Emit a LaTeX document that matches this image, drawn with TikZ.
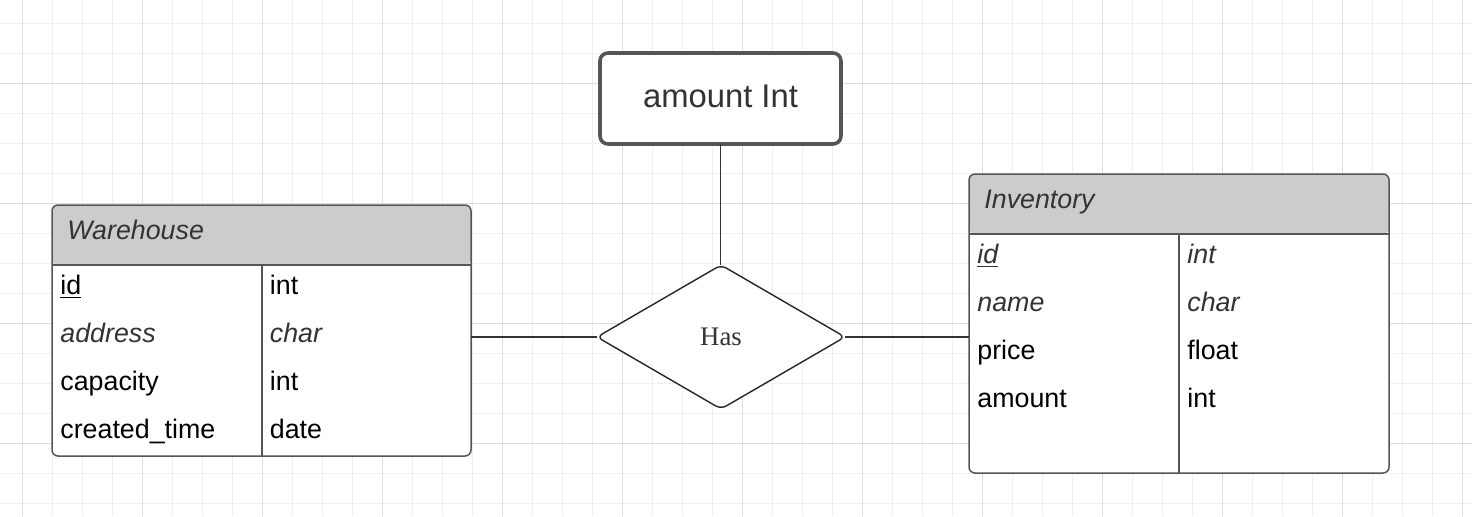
\documentclass[tikz,border=0pt]{standalone}
\usepackage{fontspec}
\setmainfont{Liberation Sans}
\newfontfamily\relfont{Liberation Serif}
\usetikzlibrary{positioning, shapes.geometric, calc}
\definecolor{GridMinor}{HTML}{EFEFEF}
\definecolor{GridMajor}{HTML}{DDDDDD}
\definecolor{HeaderGray}{HTML}{CCCCCC}
\definecolor{EdgeGray}{HTML}{555555}
\definecolor{TextDark}{HTML}{333333}

\begin{document}
\begin{tikzpicture}[
    x=0.5pt, y=-0.5pt,
    gridminor/.style={draw=GridMinor, line width=0.5pt},
    gridmajor/.style={draw=GridMajor, line width=0.5pt},
    entity/.style={
      draw=EdgeGray, fill=white, rounded corners=3pt,
      line width=0.75pt, inner sep=0pt, outer sep=0pt,
      path picture={\fill[HeaderGray] (path picture bounding box.north west)
        rectangle ($(path picture bounding box.north east)+(0,60)$);}
    },
    rule/.style={draw=EdgeGray, line width=0.75pt},
    attr/.style={anchor=base west, inner sep=0pt, font=\fontsize{13.4}{16}\selectfont},
    title/.style={attr, text=TextDark, font=\fontsize{13.4}{16}\selectfont\itshape},
    attrbox/.style={
      draw=EdgeGray, fill=white, rounded corners=4pt, line width=1.8pt,
      minimum width=120.5pt, minimum height=45.5pt, outer sep=0pt,
      text=TextDark, font=\fontsize{16.4}{20}\selectfont
    },
    relation/.style={
      diamond, draw=black!85, fill=white, rounded corners=3pt,
      line width=0.7pt, inner sep=0pt, outer sep=0pt,
      minimum width=124pt, minimum height=72pt,
      text=TextDark, font=\relfont\fontsize{13.4}{16}\selectfont
    },
    link/.style={draw=TextDark, line width=0.75pt}
  ]
    \useasboundingbox[fill=white] (0,0) rectangle (1472,516);

    % Background grid
    \foreach \x in {22,52,...,1462} \draw[gridminor] (\x,0) -- (\x,516);
    \foreach \y in {23,53,...,503} \draw[gridminor] (0,\y) -- (1472,\y);
    \foreach \x in {22,142,...,1462} \draw[gridmajor] (\x,0) -- (\x,516);
    \foreach \y in {83,203,323,443} \draw[gridmajor] (0,\y) -- (1472,\y);

    % Warehouse
    \node[entity, minimum width=209.5pt, minimum height=125.5pt] (wh) at (261.5,330.5) {};
    \draw[rule] ($(wh.north west)+(0,60)$) -- ($(wh.north east)+(0,60)$);
    \draw[rule] ($(wh.north west)+(210,60)$) -- ($(wh.south west)+(210,0)$);
    \node[title] (wh-title) at ($(wh.north west)+(15,34)$) {Warehouse};
    \foreach \k/\t [count=\i from 0] in {
        \underline{id}/int,
        {\color{TextDark}\itshape address}/{\color{TextDark}\itshape char},
        capacity/int,
        created\_time/date} {
      \node[attr] (wh-key-\i) at ($(wh.north west)+(8,89+48*\i)$) {\k};
      \node[attr] (wh-type-\i) at ($(wh.north west)+(217.5,89+48*\i)$) {\t};
    }

    % Inventory
    \node[entity, minimum width=210pt, minimum height=149.5pt] (inv) at (1179,323.5) {};
    \draw[rule] ($(inv.north west)+(0,60)$) -- ($(inv.north east)+(0,60)$);
    \draw[rule] ($(inv.north west)+(210,60)$) -- ($(inv.south west)+(210,0)$);
    \node[title] (inv-title) at ($(inv.north west)+(15,34)$) {Inventory};
    \foreach \k/\t [count=\i from 0] in {
        {\color{TextDark}\itshape\underline{id}}/{\color{TextDark}\itshape int},
        {\color{TextDark}\itshape name}/{\color{TextDark}\itshape char},
        price/float,
        amount/int} {
      \node[attr] (inv-key-\i) at ($(inv.north west)+(8,89+48*\i)$) {\k};
      \node[attr] (inv-type-\i) at ($(inv.north west)+(218,89+48*\i)$) {\t};
    }

    % Relationship and its attribute
    \node[relation] (has) at (721,337) {Has};
    \node[attrbox, text depth=2pt] (amt) at (720.5,98.5) {amount Int};

    % Connectors
    \draw[link] (amt.south) -- (amt.south |- has.north);
    \draw[link] (has.west) -- (has.west -| wh.east);
    \draw[link] (has.east) -- (has.east -| inv.west);
  \end{tikzpicture}
\end{document}
